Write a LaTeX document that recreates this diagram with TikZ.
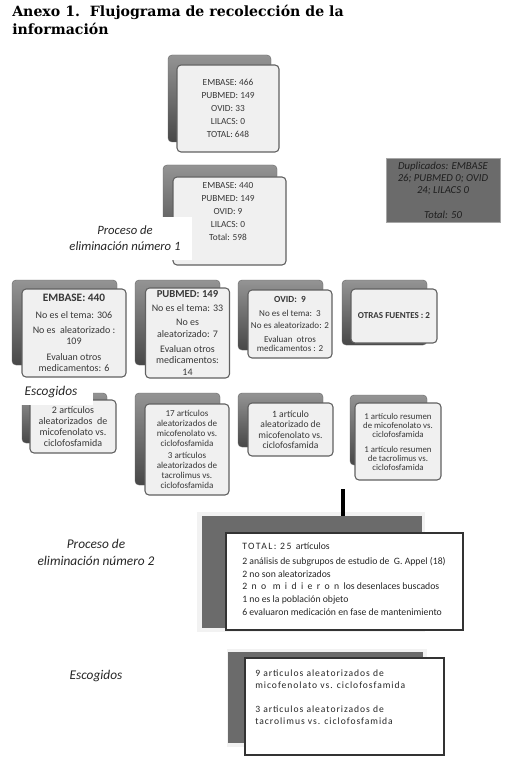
\documentclass[tikz,border=0pt]{standalone}
\usepackage{fontspec}
\setmainfont{Carlito}
\newfontfamily\titlefont{DejaVu Serif}
\pgfdeclarelayer{bg}
\pgfsetlayers{bg,main}
\newcommand{\pxl}[1]{#1*0.75pt}
\newcommand{\fsz}[2]{\fontsize{#1}{#2}\selectfont}
\begin{document}
\begin{tikzpicture}[x=0.75pt,y=-0.75pt,
 back/.style={rounded corners=3pt, top color=black!42, bottom color=black!72, draw=black!60, line width=0.3pt, inner sep=0pt},
 front/.style={rounded corners=3pt, fill=black!6, draw=black!62, line width=0.8pt, text=black!78, align=center, inner sep=0pt},
 conn/.style={draw=black!62, line width=2pt},
 txt/.style={text=black!78, align=center, inner sep=0pt},
 lab/.style={font=\itshape\fsz{9.5}{12}, text=black!85, align=center, inner sep=0pt},
 glow/.style={fill=black!5, draw=none, inner sep=0pt},
 bigback/.style={fill=black!58, draw=none, inner sep=0pt},
 bigfront/.style={fill=white, draw=black!80, line width=1.1pt, inner sep=0pt},
 bigtxt/.style={text=black!85, align=left, inner sep=0pt, anchor=west}]
\fill[white] (0,0) rectangle (507,777);
\useasboundingbox (0,0) rectangle (507,777);

% title
\node[anchor=north west, align=left, inner sep=0pt, font=\titlefont\bfseries\fsz{10.6}{13.5}] (title) at (12,4.5) {Anexo 1.\ \ Flujograma de recolección de la\\información};

% top box
\node[back, minimum width=\pxl{103}, minimum height=\pxl{87}] (tb) at (219.5,98.5) {};
\node[front, minimum width=\pxl{102}, minimum height=\pxl{87}, font=\fsz{7}{9.75}] (tf) at (228,108.5) {EMBASE: 466\\PUBMED: 149\\OVID: 33\\LILACS: 0\\TOTAL: 648};

% second box
\node[back, minimum width=\pxl{114}, minimum height=\pxl{90}] (sb) at (220,210) {};
\node[front, minimum width=\pxl{113}, minimum height=\pxl{88}] (sf) at (229.5,221) {};
\node[txt, font=\fsz{7}{9.75}] (st) at (228,212) {EMBASE: 440\\PUBMED: 149\\OVID: 9\\LILACS: 0\\Total: 598};

% duplicados
\node[fill=black!58, draw=black!35, line width=0.6pt, minimum width=\pxl{114}, minimum height=\pxl{64}, inner sep=0pt, align=center, text=black!88, font=\itshape\fsz{8}{9}] (dup) at (443,190) {Duplicados: EMBASE\\26; PUBMED 0; OVID\\24; LILACS 0\\[9.75pt]Total: 50};

% label 1
\node[lab, fill=white, minimum width=\pxl{134}, minimum height=\pxl{43}] (lab1) at (125,238.5) {Proceso de\\eliminación número 1};

% row boxes
\node[back, minimum width=\pxl{105}, minimum height=\pxl{85}] (ab) at (64.5,322.5) {};
\node[front, minimum width=\pxl{104}, minimum height=\pxl{88}, font=\fsz{7.5}{8.25}] (af) at (74,333) {{\bfseries\fsz{8.5}{8.25}EMBASE: 440}\\[4.5pt]No es el tema: 306\\[3pt]No es\ \ aleatorizado :\\109\\[3.75pt]Evaluan otros\\medicamentos: 6};

\node[back, minimum width=\pxl{85}, minimum height=\pxl{85}] (bb) at (177.5,322.5) {};
\node[front, minimum width=\pxl{84}, minimum height=\pxl{90}, font=\fsz{7.5}{8.7}] (bf) at (187.5,333) {{\bfseries\fsz{8}{8.7}PUBMED: 149}\\[1.8pt]No es el tema: 33\\[1.8pt]No es\\aleatorizado: 7\\[2.5pt]Evaluan otros\\medicamentos:\\14};

\node[back, minimum width=\pxl{85}, minimum height=\pxl{70}] (cb) at (280.5,315) {};
\node[front, minimum width=\pxl{84}, minimum height=\pxl{68}, font=\fsz{6.8}{6.75}] (cf) at (290,324) {{\bfseries\fsz{7}{6.75}OVID:\ \ 9}\\[3.75pt]No es el tema:\ \ 3\\[2.25pt]No es aleatorizado: 2\\[3.75pt]Evaluan\ \ otros\\medicamentos : 2};

\node[back, minimum width=\pxl{85}, minimum height=\pxl{65}] (db) at (384.5,312.5) {};
\node[front, minimum width=\pxl{86}, minimum height=\pxl{54}, font=\bfseries\fsz{6.8}{8}] (df) at (394,316) {OTRAS FUENTES : 2};

% second row
\node[back, minimum width=\pxl{85}, minimum height=\pxl{50}] (a2b) at (64.5,418) {};
\node[front, minimum width=\pxl{86}, minimum height=\pxl{53}, font=\fsz{7.5}{8.25}] (a2f) at (73,426.5) {2 artículos\\aleatorizados\ \ de\\micofenolato vs.\\ciclofosfamida};

\node[back, minimum width=\pxl{85}, minimum height=\pxl{92}] (b2b) at (177.5,439) {};
\node[front, minimum width=\pxl{84}, minimum height=\pxl{91}, font=\fsz{6.8}{7.5}] (b2f) at (187,449.5) {17 artículos\\aleatorizados de\\micofenolato vs.\\ciclofosfamida\\[1.5pt]3 artículos\\aleatorizados de\\tacrolimus vs.\\ciclofosfamida};

\node[back, minimum width=\pxl{85}, minimum height=\pxl{54}] (c2b) at (280.5,420) {};
\node[front, minimum width=\pxl{85}, minimum height=\pxl{53}, font=\fsz{7.2}{7.9}] (c2f) at (290.5,429.5) {1 artículo\\aleatorizado de\\micofenolato vs.\\ciclofosfamida};

\node[back, minimum width=\pxl{77}, minimum height=\pxl{70}] (d2b) at (388.5,430) {};
\node[front, minimum width=\pxl{86}, minimum height=\pxl{77}, font=\fsz{6.6}{6.75}] (d2f) at (398,441.5) {1 artículo resumen\\de micofenolato vs.\\ciclofosfamida\\[4.5pt]1 artículo resumen\\de tacrolimus vs.\\ciclofosfamida};

% escogidos 1
\node[lab, font=\itshape\fsz{10}{12}, fill=white, minimum width=\pxl{84}, minimum height=\pxl{25}] (esc1) at (51,392.5) {Escogidos};

% big box 1
\node[glow, minimum width=\pxl{228}, minimum height=\pxl{120}] (b1g) at (311,572) {};
\node[bigback, minimum width=\pxl{220}, minimum height=\pxl{112}] (b1b) at (312,572) {};
\node[bigfront, minimum width=\pxl{237}, minimum height=\pxl{97}] (b1f) at (344.5,581.5) {};
\node[bigtxt, font=\fsz{7.3}{9.4}] (b1t) at (242,579) {{\addfontfeature{LetterSpace=15}TOTAL: 25}\ \ artículos\\[2pt]2 análisis de subgrupos de estudio de\ \ G. Appel (18)\\2 no son aleatorizados\\2\ \ {\addfontfeature{LetterSpace=45}no midieron}\ \ los desenlaces buscados\\1 no es la población objeto\\6 evaluaron medicación en fase de mantenimiento};

% big box 2
\node[glow, minimum width=\pxl{200}, minimum height=\pxl{98}] (b2g) at (327,698) {};
\node[bigback, minimum width=\pxl{195}, minimum height=\pxl{91}] (bbb) at (325.5,697.5) {};
\node[bigfront, minimum width=\pxl{199}, minimum height=\pxl{97}] (bbf) at (344.5,706.5) {};
\node[bigtxt, font={\fsz{7.2}{9}\addfontfeature{LetterSpace=10}}] (bbt) at (255,697) {9 articulos aleatorizados de\\micofenolato vs. ciclofosfamida\\[9pt]3 articulos aleatorizados de\\tacrolimus vs. ciclofosfamida};

% labels 2
\node[lab, font=\itshape\fsz{10}{12.75}] (lab2) at (96,552.5) {Proceso de\\eliminación número 2};
\node[lab, font=\itshape\fsz{10}{12}] (esc2) at (96,676) {Escogidos};

% black connector
\coordinate (kstart) at (343,489);
\draw[black, line width=2.4pt] (kstart) -- (kstart |- b1b.north);

\begin{pgfonlayer}{bg}
\coordinate (bus) at (0,275);
\coordinate (jog) at (0,384);
\draw[conn] (tb.south) -- (tb.south |- sb.north);
\draw[conn] (sb.south) -- (sb.south |- bus);
\draw[conn, line join=miter] (ab.north) -- (ab.north |- bus) -- (db.north |- bus) -- (db.north);
\draw[conn] (bb.north) -- (bb.north |- bus);
\draw[conn] (cb.north) -- (cb.north |- bus);
\draw[conn] (ab.south) -- (ab.south |- a2b.north);
\draw[conn] (bb.south) -- (bb.south |- b2b.north);
\draw[conn] (cb.south) -- (cb.south |- c2b.north);
\draw[conn] (db.south) -- (db.south |- jog) -- (d2b.north |- jog) -- (d2b.north);
\draw[conn] (b1f.south) -- (b1f.south |- bbb.north);
\end{pgfonlayer}
\end{tikzpicture}
\end{document}
